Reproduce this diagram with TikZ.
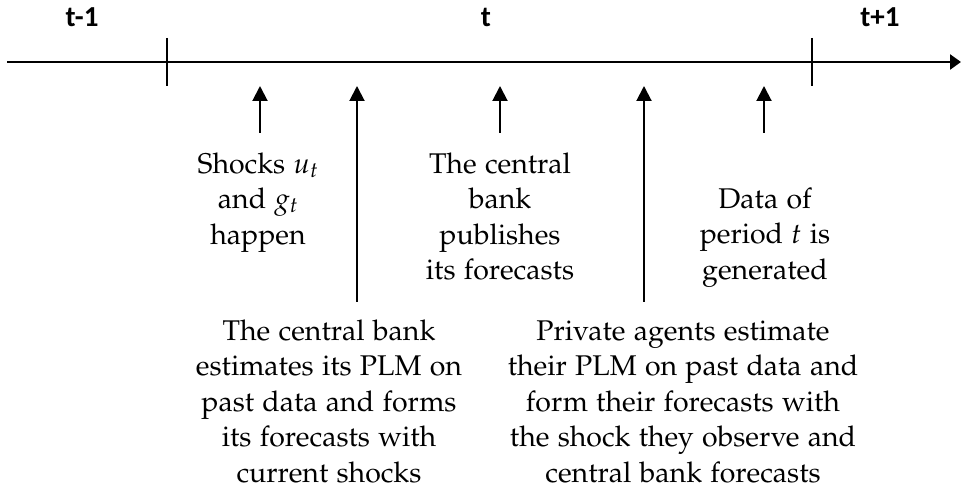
\documentclass[tikz,border=0pt]{standalone}
\usepackage[T1]{fontenc}
\usepackage{mathpazo}
\usepackage[no-math]{fontspec}
\newfontfamily\labfamily{Carlito}
\usetikzlibrary{arrows.meta}
\newcommand{\palfont}{\fontencoding{T1}\fontfamily{pplx}\fontseries{m}\fontshape{n}\fontsize{28.5}{35.5}\selectfont}
\newcommand{\labfont}{\labfamily\bfseries\fontsize{29}{33}\selectfont}
\tikzset{
  axisline/.style={line width=2.4pt, -{Triangle[length=11pt,width=15pt]}},
  tickline/.style={line width=1.5pt},
  evarrow/.style={line width=2pt, -{Triangle[length=15pt,width=15pt]}},
  evtext/.style={inner sep=0pt, anchor=north, align=center, font=\palfont},
  periodlabel/.style={inner sep=0pt, anchor=base, font=\labfont}
}
\begin{document}
\begin{tikzpicture}[x=1pt,y=-1pt]
\useasboundingbox (0,0) rectangle (961,494);
% axis
\coordinate (ax0) at (7,62);
\coordinate (ax1) at (961,62);
\draw[axisline] (ax0) -- (ax1);
% ticks
\coordinate (tka) at (167,38);
\coordinate (tkb) at (167,86);
\coordinate (tkc) at (812,38);
\coordinate (tkd) at (812,86);
\draw[tickline] (tka) -- (tkb);
\draw[tickline] (tkc) -- (tkd);
% period labels
\node[periodlabel] (lprev) at (82,27) {t-1};
\node[periodlabel] (lcur) at (486,27) {t};
\node[periodlabel] (lnext) at (880,27) {t+1};
% event arrows
\coordinate (e1b) at (260,133); \coordinate (e1t) at (260,86);
\coordinate (e2b) at (357,302); \coordinate (e2t) at (357,86);
\coordinate (e3b) at (500,133); \coordinate (e3t) at (500,86);
\coordinate (e4b) at (644,302); \coordinate (e4t) at (644,86);
\coordinate (e5b) at (764,133); \coordinate (e5t) at (764,86);
\draw[evarrow] (e1b) -- (e1t);
\draw[evarrow] (e2b) -- (e2t);
\draw[evarrow] (e3b) -- (e3t);
\draw[evarrow] (e4b) -- (e4t);
\draw[evarrow] (e5b) -- (e5t);
% texts
\node[evtext] (t1) at (258,148.15) {\strut Shocks $u_t$\\and $g_t$\\happen};
\node[evtext] (t3) at (500,148.15) {\strut The central\\bank\\publishes\\its forecasts};
\node[evtext] (t5) at (765,183.15) {\strut Data of\\period $t$ is\\generated};
\node[evtext] (t2) at (329,315.15) {\strut The central bank\\estimates its PLM on\\past data and forms\\its forecasts with\\current shocks};
\node[evtext] (t4) at (683,315.15) {\strut Private agents estimate\\their PLM on past data and\\form their forecasts with\\the shock they observe and\\central bank forecasts};
\end{tikzpicture}
\end{document}
